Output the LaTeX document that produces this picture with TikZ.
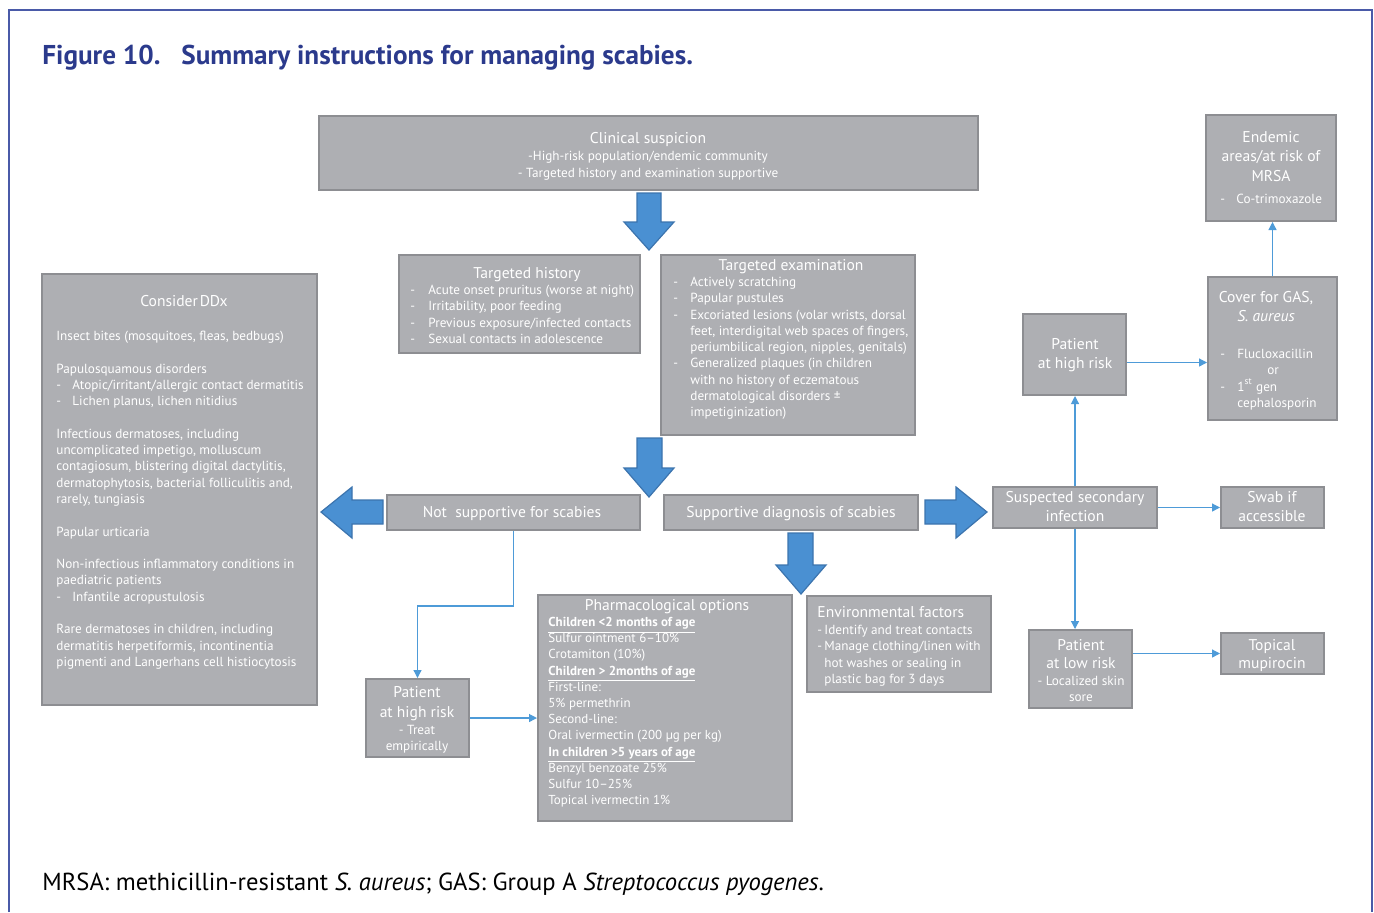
\documentclass[tikz,border=0pt]{standalone}
\usepackage{fontspec}
\setmainfont{PT Sans}
\usetikzlibrary{arrows.meta,fit}
\definecolor{boxfill}{HTML}{AEAFB3}
\definecolor{boxedge}{HTML}{8D8E92}
\definecolor{bigblue}{HTML}{4A90D2}
\definecolor{bigedge}{HTML}{3C74AE}
\definecolor{lineblue}{HTML}{4E9BD8}
\definecolor{titleblue}{HTML}{2B3A8C}
\definecolor{frameblue}{HTML}{4A5AA8}
\newcommand{\fT}{\fontsize{7.8}{9.5}\selectfont}
\newcommand{\fS}{\fontsize{6.6}{8.15}\selectfont}
\newcommand{\sT}{\rule{0pt}{7.5pt}}
\newcommand{\sS}{\rule{0pt}{6pt}}
\newcommand{\dsh}[1]{\makebox[#1][l]{-}}
\tikzset{
  gbox/.style={draw=boxedge, fill=boxfill, line width=1pt, inner sep=0pt, rectangle},
  ttl/.style={text=white, inner sep=0pt, font=\fT, anchor=base},
  blk/.style={text=white, inner sep=0pt, font=\fS, align=left, anchor=north west},
  cblk/.style={text=white, inner sep=0pt, align=center, anchor=north},
  bigarrow/.style={fill=bigblue, draw=bigedge, line width=0.6pt, line join=miter},
  conn/.style={draw=lineblue, line width=0.6pt, -{Triangle[length=4pt,width=4pt]}},
}
\begin{document}
\begin{tikzpicture}[x=0.5pt,y=-0.5pt]
\useasboundingbox (0,0) rectangle (1374,912);
% frame
\draw[frameblue, line width=0.8pt] (9,912) -- (9,10) -- (1372,10) -- (1372,912);
% title
\node[anchor=base west, inner sep=0pt, text=titleblue, font=\fontsize{13.6}{15}\selectfont\bfseries] (fig) at (42,64) {Figure 10.};
\node[anchor=base west, inner sep=0pt, text=titleblue, font=\fontsize{13.6}{15}\selectfont\bfseries] (figt) at (181,64) {Summary instructions for managing scabies.};
% boxes
\node[gbox, fit={(319,116) (978,190)}] (cs) {};
\node[gbox, fit={(399,255) (640,353)}] (th) {};
\node[gbox, fit={(661,255) (915,435)}] (te) {};
\node[gbox, fit={(42,274) (317,705)}] (ddx) {};
\node[gbox, fit={(387,495) (640,530)}] (ns) {};
\node[gbox, fit={(664,495) (918,530)}] (sd) {};
\node[gbox, fit={(366,679) (469,757)}] (phl) {};
\node[gbox, fit={(538,595) (792,821)}] (ph) {};
\node[gbox, fit={(807,596) (991,692)}] (env) {};
\node[gbox, fit={(993,487) (1157,528)}] (ssi) {};
\node[gbox, fit={(1221,487) (1324,528)}] (swab) {};
\node[gbox, fit={(1023,314) (1126,395)}] (phr) {};
\node[gbox, fit={(1208,277) (1337,420)}] (cov) {};
\node[gbox, fit={(1206,115) (1336,221)}] (end) {};
\node[gbox, fit={(1029,630) (1132,708)}] (plr) {};
\node[gbox, fit={(1221,633) (1324,674)}] (top) {};
% big arrows
\draw[bigarrow] (637,193) -- (661,193) -- (661,222) -- (674,222) -- (649,250) -- (624,222) -- (637,222) -- cycle;
\draw[bigarrow] (637,438) -- (662,438) -- (662,468) -- (674,468) -- (649,497) -- (624,468) -- (637,468) -- cycle;
\draw[bigarrow] (383,500) -- (352,500) -- (352,487) -- (321,512) -- (352,538) -- (352,524) -- (383,524) -- cycle;
\draw[bigarrow] (925,500) -- (956,500) -- (956,487) -- (987,512) -- (956,538) -- (956,524) -- (925,524) -- cycle;
\draw[bigarrow] (788,533) -- (813,533) -- (813,565) -- (826,565) -- (801,594) -- (776,565) -- (788,565) -- cycle;
% texts: clinical suspicion
\node[ttl] (cs-t) at (648,143) {Clinical suspicion};
\node[cblk, font=\fontsize{6.6}{8.5}\selectfont] (cs-b) at (648,148) {\sS-High-risk population/endemic community\\- Targeted history and examination supportive};
% targeted history
\node[ttl] (th-t) at (527,278) {Targeted history};
\node[blk] (th-b) at (410,282) {\sS\dsh{9pt}Acute onset pruritus (worse at night)\\\dsh{9pt}Irritability, poor feeding\\\dsh{9pt}Previous exposure/infected contacts\\\dsh{9pt}Sexual contacts in adolescence};
% targeted examination
\node[ttl] (te-t) at (791,270) {Targeted examination};
\node[blk] (te-b) at (673,274) {\sS\dsh{8.5pt}Actively scratching\\\dsh{8.5pt}Papular pustules\\\dsh{8.5pt}Excoriated lesions (volar wrists, dorsal\\\hspace*{8.5pt}feet, interdigital web spaces of fingers,\\\hspace*{8.5pt}periumbilical region, nipples, genitals)\\\dsh{8.5pt}Generalized plaques (in children\\\hspace*{8.5pt}with no history of eczematous\\\hspace*{8.5pt}dermatological disorders \textpm\\\hspace*{8.5pt}impetiginization)};
% consider DDx
\node[ttl] (ddx-t) at (184,306) {Consider\hspace{0.12em}DDx};
\node[blk] (ddx-b) at (56,328) {\sS Insect bites (mosquitoes, fleas, bedbugs)\\\mbox{}\\Papulosquamous disorders\\\dsh{8pt}Atopic/irritant/allergic contact dermatitis\\\dsh{8pt}Lichen planus, lichen nitidius\\\mbox{}\\Infectious dermatoses, including\\uncomplicated impetigo, molluscum\\contagiosum, blistering digital dactylitis,\\dermatophytosis, bacterial folliculitis and,\\rarely, tungiasis\\\mbox{}\\Papular urticaria\\\mbox{}\\Non-infectious inflammatory conditions in\\paediatric patients\\\dsh{8pt}Infantile acropustulosis\\\mbox{}\\Rare dermatoses in children, including\\dermatitis herpetiformis, incontinentia\\pigmenti and Langerhans cell histiocytosis};
% decision boxes
\node[ttl] (ns-t) at (512,517) {Not\ \ supportive for scabies};
\node[ttl] (sd-t) at (791,517) {Supportive diagnosis of scabies};
% patient high risk left
\node[cblk, font=\fontsize{7.8}{10}\selectfont] (phl-t) at (417,682) {\sT Patient\\at high risk};
\node[cblk, font=\fontsize{6.6}{8}\selectfont] (phl-b) at (417,722) {\sS- Treat\\empirically};
% pharmacological
\node[ttl] (ph-t) at (667,610) {Pharmacological options};
\node[blk, font=\fontsize{6.5}{8.1}\selectfont] (ph-b) at (548,614) {\sS\underline{\textbf{Children <2 months of age}}\\Sulfur ointment 6--10\%\\Crotamiton (10\%)\\\underline{\textbf{Children > 2months of age}}\\First-line:\\5\% permethrin\\Second-line:\\Oral ivermectin (200 µg per kg)\\\underline{\textbf{In children >5 years of age}}\\Benzyl benzoate 25\%\\Sulfur 10--25\%\\Topical ivermectin 1\%};
% environmental
\node[ttl, anchor=base west] (env-t) at (817,617) {Environmental factors};
\node[blk] (env-b) at (817,622) {\sS\dsh{3.5pt}Identify and treat contacts\\\dsh{3.5pt}Manage clothing/linen with\\\hspace*{3.5pt}hot washes or sealing in\\\hspace*{3.5pt}plastic bag for 3 days};
% secondary infection branch
\node[cblk, font=\fontsize{7.8}{9.5}\selectfont] (ssi-t) at (1075,487) {\sT Suspected secondary\\infection};
\node[cblk, font=\fontsize{7.8}{9.5}\selectfont] (swab-t) at (1272,487) {\sT Swab if\\accessible};
\node[cblk, font=\fontsize{7.8}{9.5}\selectfont] (phr-t) at (1075,334) {\sT Patient\\at high risk};
\node[cblk, font=\fontsize{7.8}{9.5}\selectfont] (cov-t) at (1266,287) {\sT Cover for GAS,\\\textit{S. aureus}};
\node[blk] (cov-b) at (1220,346) {\sS\dsh{8.5pt}Flucloxacillin\\\hspace*{23.5pt}or\\\dsh{8.5pt}1\textsuperscript{st} gen\\\hspace*{8.5pt}cephalosporin};
\node[cblk, font=\fontsize{7.8}{9.7}\selectfont] (end-t) at (1271,127) {\sT Endemic\\areas/at risk of\\MRSA};
\node[blk, anchor=base west] (end-b) at (1220,203) {\dsh{8pt}Co-trimoxazole};
\node[cblk, font=\fontsize{7.8}{9}\selectfont] (plr-t) at (1081,635) {\sT Patient\\at low risk};
\node[cblk, font=\fontsize{6.6}{8}\selectfont] (plr-b) at (1081,673) {\sS- Localized skin\\sore};
\node[cblk, font=\fontsize{7.8}{9}\selectfont] (top-t) at (1272,635) {\sT Topical\\mupirocin};
% connectors
\draw[conn] (ns.south) -- ++(0,75) -| (phl.north);
\draw[conn] (phl.east) -- (phl.east -| ph.west);
\draw[conn] (ssi.north) -- (ssi.north |- phr.south);
\draw[conn] ([yshift=-4pt]phr.east) -- ([yshift=-4pt]phr.east -| cov.west);
\draw[conn] (cov.north) -- (cov.north |- end.south);
\draw[conn] (ssi.east) -- (ssi.east -| swab.west);
\draw[conn] (ssi.south) -- (ssi.south |- plr.north);
\draw[conn] (plr.east |- top.west) -- (top.west);
% footnote
\node[anchor=base west, inner sep=0pt, font=\fontsize{12.3}{14}\selectfont] (foot) at (42,890) {MRSA: methicillin-resistant \textit{S. aureus}; GAS: Group A \textit{Streptococcus pyogenes}.};
\end{tikzpicture}
\end{document}
